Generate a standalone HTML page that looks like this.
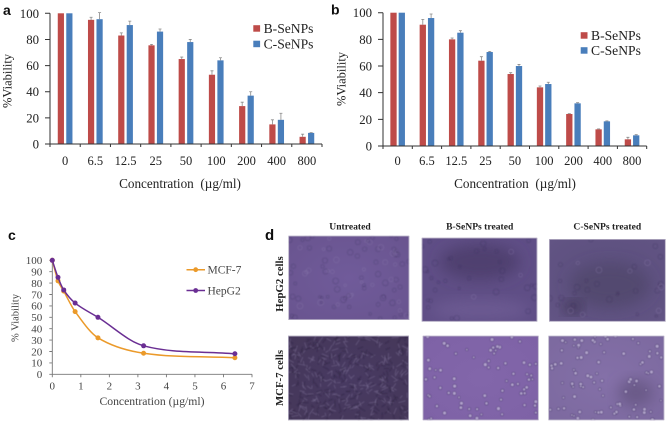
<!DOCTYPE html>
<html lang="en">
<head>
<meta charset="utf-8">
<title>Cell viability figure</title>
<style>
html,body{margin:0;padding:0;background:#fff;width:667px;height:423px;overflow:hidden}
svg{display:block}
text{font-family:"Liberation Serif",serif;fill:#222}
.panel{font-family:"Liberation Sans",sans-serif;font-weight:700;font-size:14px;fill:#111}
.head{font-weight:700;font-size:9.6px;fill:#222;text-anchor:middle}
.row{font-weight:700;font-size:10.8px;fill:#222;text-anchor:middle}
</style>
</head>
<body>
<svg id="fig" xmlns="http://www.w3.org/2000/svg" width="667" height="423" viewBox="0 0 667 423">
  <defs>
    <filter id="soft" x="-5%" y="-5%" width="110%" height="110%"><feGaussianBlur stdDeviation="0.55"/></filter>
    <filter id="blotch" x="-30%" y="-30%" width="160%" height="160%"><feGaussianBlur stdDeviation="7"/></filter>
    <filter id="softer" x="-5%" y="-5%" width="110%" height="110%"><feGaussianBlur stdDeviation="0.3"/></filter>
  </defs>
  <g filter="url(#softer)">
    <text class="panel" x="3" y="15">a</text>
    <text class="panel" x="331" y="14.5">b</text>
    <text class="panel" x="8" y="240">c</text>
    <text class="panel" x="265" y="240" style="font-size:15px">d</text>
    <text class="head" x="350" y="229.5">Untreated</text>
    <text class="head" x="479.7" y="229.5">B-SeNPs treated</text>
    <text class="head" x="607.3" y="229.5">C-SeNPs treated</text>
    <text class="row" transform="translate(283,284) rotate(-90)">HepG2 cells</text>
    <text class="row" transform="translate(283,378) rotate(-90)">MCF-7 cells</text>
  </g>
  <g id="photos"></g>
  <g id="chartA" filter="url(#softer)"></g>
  <g id="chartB" filter="url(#softer)"></g>
  <g id="chartC" filter="url(#softer)"></g>
</svg>
<script>
// ---- Chart data ----
const barCategories = ['0','6.5','12.5','25','50','100','200','400','800'];
const barTicks = [0,20,40,60,80,100];
const seriesNames = ['B-SeNPs','C-SeNPs'];
const aBValues = [100,95,83,75.5,65,53,29,15,5.5];
const aBErrors = [0,2,2,0.7,1.5,3,3,3.5,2];
const aCValues = [100,95.5,91,86,78,64,37,18.5,8.5];
const aCErrors = [0,5,3,2,2,2,3,5,0.3];
const bBValues = [100,91,80,64,54,44,24,12.5,5];
const bBErrors = [0,4,1,3,1,1,0.3,0.3,1.5];
const bCValues = [100,96,85,70.5,60,46.5,32,18.5,8];
const bCErrors = [0,3,1.5,0.5,1.2,1.3,0.5,0.3,0.5];
const lineX = [0,0.2,0.4,0.8,1.6,3.2,6.4];
const mcfValues = [100,82,73,55,32,18.5,14.5];
const hepValues = [100,85,74,62.5,50,25,18];
const lineYTicks = [0,10,20,30,40,50,60,70,80,90,100];
const lineXTicks = [0,1,2,3,4,5,6,7];
const lineNames = ['MCF-7','HepG2'];

const NS = 'http://www.w3.org/2000/svg';
const RED = '#be4b48', BLUE = '#4a7ebb', AXIS = '#333';

function mk(parent, tag, attrs, txt) {
  const e = document.createElementNS(NS, tag);
  for (const k in attrs) e.setAttribute(k, attrs[k]);
  if (txt !== undefined) e.textContent = txt;
  parent.appendChild(e);
  return e;
}

function barChart(root, L, R, T, B, red, redErr, blue, blueErr, w, gap, lx, ly1, ly2, titleX, yTitleX, yTitleC, tickDy, titleDy) {
  const yS = v => B - (v / 100) * (B - T);
  const step = (R - L) / barCategories.length;
  const xS = i => L + step * i;

  barCategories.forEach((c, i) => {
    const cx = xS(i) + step / 2;
    [[red, redErr, RED, -1, 'b-senps'], [blue, blueErr, BLUE, 1, 'c-senps']].forEach(s => {
      const x = s[3] < 0 ? cx - gap / 2 - w : cx + gap / 2;
      const bar = mk(root, 'rect', {x: x, y: yS(s[0][i]), width: w, height: B - yS(s[0][i]), fill: s[2]});
      
      
      if (s[1][i] > 0) {
        const xm = x + w / 2, top = yS(s[0][i] + s[1][i]);
        const err = mk(root, 'path', {d: `M${xm} ${yS(s[0][i])}V${top}M${xm - 1.5} ${top}H${xm + 1.5}`, stroke: '#8a8a8a', 'stroke-width': 0.8, fill: 'none'});
        
        
      }
    });
    const lab = mk(root, 'text', {x: cx, y: B + tickDy, 'text-anchor': 'middle', 'font-size': 12.5}, c);
    
    
  });

  let d = `M${L} ${T}V${B}H${R}`;
  barTicks.forEach(t => { d += `M${L - 5} ${yS(t)}H${L}`; });
  for (let i = 0; i <= barCategories.length; i++) d += `M${xS(i)} ${B}V${B + 3}`;
  const ax = mk(root, 'path', {d: d, stroke: AXIS, 'stroke-width': 1, fill: 'none'});
  
  

  barTicks.forEach(t => {
    const lab = mk(root, 'text', {x: L - 11, y: yS(t) + 4.5, 'text-anchor': 'end', 'font-size': 12.8}, t);
    
    
  });

  const xt = mk(root, 'text', {x: titleX, y: B + titleDy, 'text-anchor': 'middle', 'font-size': 13.2}, 'Concentration\u00a0\u00a0(\u00b5g/ml)');
  
  
  const yt = mk(root, 'text', {transform: `translate(${yTitleX},${yTitleC}) rotate(-90)`, 'text-anchor': 'middle', 'font-size': 12.5}, '%Viability');
  
  

  seriesNames.forEach((n, i) => {
    const y = i === 0 ? ly1 : ly2;
    const sw = mk(root, 'rect', {x: lx, y: y - 3.3, width: 6.8, height: 6.5, fill: i === 0 ? RED : BLUE});
    
    
    const tx = mk(root, 'text', {x: lx + 10.3, y: y + 4.3, 'font-size': 13.6}, n);
    
    
  });
}

function smoothPath(pts) {
  let d = `M${pts[0][0]} ${pts[0][1]}`;
  for (let i = 0; i < pts.length - 1; i++) {
    const p0 = pts[Math.max(0, i - 1)], p1 = pts[i], p2 = pts[i + 1], p3 = pts[Math.min(pts.length - 1, i + 2)];
    const dx = p2[0] - p1[0];
    const m1 = (p2[1] - p0[1]) / Math.max(p2[0] - p0[0], 0.001);
    const m2 = (p3[1] - p1[1]) / Math.max(p3[0] - p1[0], 0.001);
    d += `C${p1[0] + dx / 3} ${p1[1] + m1 * dx / 3} ${p2[0] - dx / 3} ${p2[1] - m2 * dx / 3} ${p2[0]} ${p2[1]}`;
  }
  return d;
}

function lineChart(root) {
  const L = 52.3, R = 252, T = 260.3, B = 374.3;
  const xS = v => L + (v / 7) * (R - L);
  const yS = v => B - (v / 100) * (B - T);
  const MCF = '#eb9a2c', HEP = '#6a2f93';

  let d = `M${L} ${T}V${B}H${R}`;
  lineYTicks.forEach(t => { d += `M${L - 3} ${yS(t)}H${L}`; });
  lineXTicks.forEach(t => { d += `M${xS(t)} ${B}V${B + 3}`; });
  const ax = mk(root, 'path', {d: d, stroke: '#777', 'stroke-width': 0.9, fill: 'none'});
  
  

  lineYTicks.forEach(t => {
    const lab = mk(root, 'text', {x: L - 10, y: yS(t) + 3.8, 'text-anchor': 'end', 'font-size': 11, style: 'fill:#444'}, t);
    
    
  });
  lineXTicks.forEach(t => {
    const lab = mk(root, 'text', {x: xS(t), y: B + 15, 'text-anchor': 'middle', 'font-size': 11, style: 'fill:#444'}, t);
    
    
  });

  [[mcfValues, MCF, 'mcf-7'], [hepValues, HEP, 'hepg2']].forEach(s => {
    const pts = s[0].map((v, i) => [xS(lineX[i]), yS(v)]);
    const ln = mk(root, 'path', {d: smoothPath(pts), stroke: s[1], 'stroke-width': 1.5, fill: 'none'});
    
    
    pts.forEach((p, i) => {
      const c = mk(root, 'circle', {cx: p[0], cy: p[1], r: 2.5, fill: s[1]});
      
      
    });
  });

  const xt = mk(root, 'text', {x: 152, y: 405, 'text-anchor': 'middle', 'font-size': 11.7, style: 'fill:#444'}, 'Concentration (\u00b5g/ml)');
  
  
  const yt = mk(root, 'text', {transform: 'translate(18.5,318) rotate(-90)', 'text-anchor': 'middle', 'font-size': 10.5, style: 'fill:#444'}, '% Viability');
  
  

  lineNames.forEach((n, i) => {
    const y = i === 0 ? 269.7 : 290.5;
    const col = i === 0 ? MCF : HEP;
    const ll = mk(root, 'line', {x1: 186.5, x2: 205, y1: y, y2: y, stroke: col, 'stroke-width': 1.5});
    
    
    const lc = mk(root, 'circle', {cx: 195.7, cy: y, r: 2.4, fill: col});
    
    
    const lt = mk(root, 'text', {x: 207.5, y: y + 4, 'font-size': 11.5, style: 'fill:#444'}, n);
    
    
  });
}

barChart(document.getElementById('chartA'), 50, 322, 13.3, 144, aBValues, aBErrors, aCValues, aCErrors, 6.2, 2.3, 253.3, 28.5, 44, 180, 11.5, 81, 21, 44);
barChart(document.getElementById('chartB'), 383, 646.7, 12.7, 146, bBValues, bBErrors, bCValues, bCErrors, 6.3, 2, 580.7, 35.5, 50.5, 515, 345.5, 79, 19, 42);
lineChart(document.getElementById('chartC'));

// ---- Micrograph textures (decorative, not chart data) ----
let seed = 12345;
function rnd() { seed = (seed * 16807) % 2147483647; return seed / 2147483647; }
const photoList = [
  {n:'hepg2-untreated', x:288.3, y:235.7, w:121, h:84.3, c1:'#705b9a', c2:'#69548f', kind:'faint', count:90, dark:0.28, blot:[]},
  {n:'hepg2-b-senps', x:421.7, y:237.7, w:115.6, h:84, c1:'#5f4e85', c2:'#5f4e86', kind:'faint', count:36, dark:0.3, blot:[[480,262,40,18,'#4f4070'],[480,310,50,10,'#6c5a92']]},
  {n:'hepg2-c-senps', x:549, y:239, w:116.7, h:82.7, c1:'#5a4e7c', c2:'#625484', kind:'faint', count:32, dark:0.32, blot:[[610,285,40,22,'#524870'],[573,307,9,6,'#3a3050']]},
  {n:'mcf7-untreated', x:288, y:335.7, w:121, h:84.6, c1:'#483a62', c2:'#453759', kind:'spindle', count:460, blot:[]},
  {n:'mcf7-b-senps', x:422.7, y:335.7, w:116, h:84.6, c1:'#8266aa', c2:'#7e62a6', kind:'round', count:70, blot:[]},
  {n:'mcf7-c-senps', x:548.3, y:335.7, w:116, h:84.6, c1:'#8470a8', c2:'#7c699f', kind:'round', count:90, blot:[[636,393,18,14,'#6a5a88']]}
];
const photosRoot = document.getElementById('photos');
photoList.forEach((p, i) => {
  const gid = 'pg' + i;
  const defs = mk(photosRoot, 'defs', {});
  const grad = mk(defs, 'radialGradient', {id: gid, cx: '50%', cy: '50%', r: '70%'});
  mk(grad, 'stop', {offset: '0%', 'stop-color': p.c1});
  mk(grad, 'stop', {offset: '100%', 'stop-color': p.c2});
  const clip = mk(defs, 'clipPath', {id: 'pc' + i});
  mk(clip, 'rect', {x: p.x, y: p.y, width: p.w, height: p.h});
  const g = mk(photosRoot, 'g', {'clip-path': `url(#pc${i})`});
  
  
  mk(g, 'rect', {x: p.x, y: p.y, width: p.w, height: p.h, fill: `url(#${gid})`});
  p.blot.forEach(b => mk(g, 'ellipse', {cx: b[0], cy: b[1], rx: b[2], ry: b[3], fill: b[4], filter: 'url(#blotch)'}));
  const tex = mk(g, 'g', {filter: 'url(#soft)'});
  for (let k = 0; k < p.count; k++) {
    const cx = p.x + rnd() * p.w, cy = p.y + rnd() * p.h;
    if (p.kind === 'faint') {
      mk(tex, 'circle', {cx: cx, cy: cy, r: 1.2 + rnd() * 1.8, fill: 'none', stroke: rnd() > 0.25 ? '#3a2d58' : '#9486b5', 'stroke-width': 0.8, opacity: p.dark});
    } else if (p.kind === 'spindle') {
      const a = rnd() * Math.PI, l = 1.2 + rnd() * 2.2;
      mk(tex, 'line', {x1: cx - Math.cos(a) * l, y1: cy - Math.sin(a) * l, x2: cx + Math.cos(a) * l, y2: cy + Math.sin(a) * l, stroke: rnd() > 0.45 ? '#776a90' : '#2f2542', 'stroke-width': 1, 'stroke-linecap': 'round', opacity: 0.5});
    } else {
      mk(tex, 'circle', {cx: cx, cy: cy, r: 1.1 + rnd() * 0.8, fill: '#c4b9da', stroke: '#503f76', 'stroke-width': 0.7, opacity: 0.72});
    }
  }
  mk(g, 'rect', {x: p.x + 0.4, y: p.y + 0.4, width: p.w - 0.8, height: p.h - 0.8, fill: 'none', stroke: '#b5aec4', 'stroke-width': 0.8});
});
</script>
</body>
</html>
